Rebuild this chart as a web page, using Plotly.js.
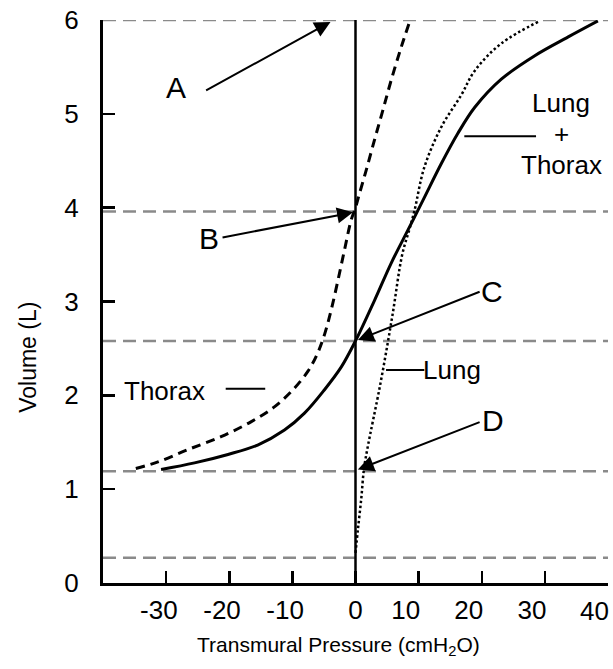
<!DOCTYPE html>
<html>
<head>
<meta charset="utf-8">
<script src="https://cdn.plot.ly/plotly-3.0.1.min.js"></script>
<style>
  html, body { margin: 0; padding: 0; background: #ffffff; }
  #chart { width: 613px; height: 669px; }
</style>
</head>
<body>
<div id="chart"></div>
<script>
// ---- data ----
// Thorax (dashed)
var thoraxP = [-34.8, -31.3, -26.6, -21.3, -16.5, -12.8, -9.9, -7.5, -6.0, -4.9, -3.85, -2.8, -1.74, -0.68, 0, 0.63, 1.7, 3.0, 4.34, 5.66, 7.24, 8.56];
var thoraxV = [1.22, 1.29, 1.42, 1.56, 1.72, 1.88, 2.06, 2.26, 2.45, 2.65, 2.91, 3.22, 3.55, 3.87, 4.0, 4.15, 4.40, 4.72, 5.04, 5.36, 5.71, 5.98];
// Lung + Thorax (solid)
var totalP = [-30.8, -25.5, -20.2, -15.5, -11.25, -8.08, -4.91, -2.27, 0, 3.0, 5.66, 8.3, 10.7, 13.6, 16.2, 18.9, 23.1, 28.4, 33.7, 38.4];
var totalV = [1.21, 1.28, 1.37, 1.47, 1.63, 1.81, 2.06, 2.30, 2.58, 3.01, 3.41, 3.76, 4.08, 4.47, 4.79, 5.07, 5.37, 5.62, 5.82, 5.99];
// Lung (dotted)
var lungP = [0, 0.38, 0.9, 1.33, 1.85, 3.96, 5.82, 7.4, 8.5, 9.35, 10.9, 13.6, 16.75, 18.9, 23.1, 29.2];
var lungV = [0.32, 0.57, 0.89, 1.21, 1.42, 2.13, 2.84, 3.5, 3.76, 3.97, 4.43, 4.86, 5.2, 5.46, 5.75, 5.99];
// Reference volumes (grey dashed levels)
var refLevels = [6, 3.96, 2.58, 1.19, 0.27];
// Zero transmural pressure line
var zeroP = [0, 0];
var zeroV = [0, 6];
// Axis ticks
var xTickVals = [-30, -20, -10, 0, 10, 20, 30, 40];
var xTickText = ['-30', '-20', '-10', '0', '10', '20', '30', '40'];
var yTickVals = [0, 1, 2, 3, 4, 5, 6];
var yTickText = ['0', '1', '2', '3', '4', '5', '6'];
var xRange = [-40, 40];
var yRange = [0, 6];

// pad labels so they sit like the original (shifted left of tick);
// the last label (at the right edge) is drawn right-aligned as an annotation
var NB = '\u00A0';
var lastIdx = xTickText.length - 1;
var xTickShown = xTickText.map(function (t, i) {
  if (i === lastIdx) return '';
  if (t === '0') return t;
  if (t.charAt(0) === '-') return t + NB + NB;
  return t + '\u2003';
});

var FONT = 'Arial, "Liberation Sans", Helvetica, sans-serif';

var traces = [];
refLevels.forEach(function (v) {
  traces.push({
    x: xRange, y: [v, v], mode: 'lines', hoverinfo: 'skip',
    line: { color: '#8a8a8a', width: 2.5, dash: '13px,7px' }
  });
});
traces.push({
  x: zeroP, y: zeroV, mode: 'lines', name: 'P = 0',
  line: { color: '#000', width: 2.5 }
});
traces.push({
  x: thoraxP, y: thoraxV, mode: 'lines', name: 'Thorax',
  line: { color: '#000', width: 3, dash: '9px,6px', shape: 'spline', smoothing: 1 }
});
traces.push({
  x: lungP, y: lungV, mode: 'lines', name: 'Lung',
  line: { color: '#000', width: 2.5, dash: '2.5px,2.5px', shape: 'spline', smoothing: 1 }
});
traces.push({
  x: totalP, y: totalV, mode: 'lines', name: 'Lung + Thorax',
  line: { color: '#000', width: 3, shape: 'spline', smoothing: 1 }
});

function arrow(tipX, tipY, tailX, tailY) {
  return {
    x: tipX, y: tipY, ax: tailX, ay: tailY, xref: 'x', yref: 'y', axref: 'x', ayref: 'y',
    text: '', showarrow: true, arrowhead: 2, arrowsize: 1.6, arrowwidth: 2, arrowcolor: '#000', standoff: 0
  };
}
function leader(x0, y0, x1, y1) {
  return {
    x: x1, y: y1, ax: x0, ay: y0, xref: 'x', yref: 'y', axref: 'x', ayref: 'y',
    text: '', showarrow: true, arrowhead: 0, arrowwidth: 2, arrowcolor: '#000', standoff: 0
  };
}
function label(t, x, y, size, xanchor) {
  return {
    x: x, y: y, xref: 'x', yref: 'y', text: t, showarrow: false,
    xanchor: xanchor || 'center', yanchor: 'middle',
    font: { family: FONT, size: size, color: '#000' }
  };
}

var annotations = [
  arrow(-3.96, 5.98, -23.9, 5.24),
  arrow(-0.4, 3.95, -21.3, 3.68),
  arrow(0.38, 2.59, 19.9, 3.11),
  arrow(0.38, 1.21, 19.9, 1.72),
  label('A', -28.4, 5.28, 30),
  label('B', -23.2, 3.67, 30),
  label('C', 21.7, 3.11, 30),
  label('D', 21.8, 1.73, 30),
  label('Thorax', -30.2, 2.05, 26),
  leader(-20.8, 2.07, -14.3, 2.07),
  leader(4.6, 2.27, 10.9, 2.27),
  label('Lung', 10.4, 2.27, 26, 'left'),
  label('Lung', 32.6, 5.12, 26),
  label('+', 32.6, 4.79, 26),
  label('Thorax', 32.6, 4.45, 26),
  leader(17.0, 4.76, 28.6, 4.76),
  {
    xref: 'x', yref: 'paper', x: xTickVals[lastIdx], y: -0.05, text: xTickText[lastIdx],
    showarrow: false, xanchor: 'right', yanchor: 'middle', xshift: 3,
    font: { family: FONT, size: 26, color: '#000' }
  },
  {
    xref: 'paper', yref: 'paper', x: 0.466, y: -0.112, text: 'Transmural Pressure (cmH<sub>2</sub>O)',
    showarrow: false, xanchor: 'center', yanchor: 'middle', font: { family: FONT, size: 21, color: '#000' }
  },
  {
    xref: 'paper', yref: 'paper', x: -0.1485, y: 0.40, text: 'Volume (L)', textangle: -90,
    showarrow: false, xanchor: 'center', yanchor: 'middle', font: { family: FONT, size: 23, color: '#000' }
  }
];

var layout = {
  width: 613, height: 669,
  margin: { l: 103, r: 5, t: 20, b: 86, pad: 0 },
  paper_bgcolor: '#fff', plot_bgcolor: '#fff',
  showlegend: false,
  font: { family: FONT, color: '#000' },
  xaxis: {
    range: xRange, showgrid: false, zeroline: false, showline: true, linecolor: '#000', linewidth: 3,
    ticks: 'inside', ticklen: 12, tickwidth: 2.5, tickcolor: '#000',
    tickmode: 'array', tickvals: xTickVals, ticktext: xTickShown,
    tickfont: { family: FONT, size: 26, color: '#000' }, ticklabelstandoff: 2,
    ticklabeloverflow: 'allow', automargin: false,
    fixedrange: true
  },
  yaxis: {
    range: yRange, showgrid: false, zeroline: false, showline: true, linecolor: '#000', linewidth: 3,
    ticks: 'inside', ticklen: 12, tickwidth: 2.5, tickcolor: '#000',
    tickmode: 'array', tickvals: yTickVals, ticktext: yTickText,
    tickfont: { family: FONT, size: 26, color: '#000' }, ticklabelstandoff: 16,
    ticklabeloverflow: 'allow', automargin: false,
    fixedrange: true
  },
  annotations: annotations
};

Plotly.newPlot('chart', traces, layout, { displayModeBar: false, staticPlot: true });
</script>
</body>
</html>
